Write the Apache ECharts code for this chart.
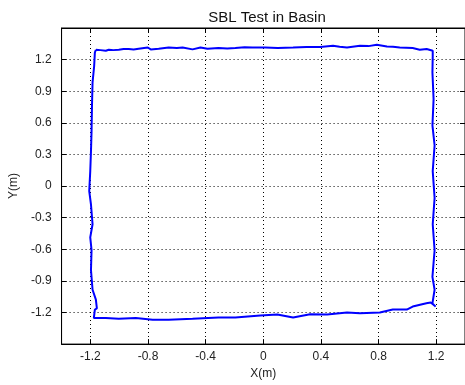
<!DOCTYPE html>
<html>
<head>
<meta charset="utf-8">
<script src="https://cdn.jsdelivr.net/npm/echarts@6/dist/echarts.min.js"></script>
<style>
  html, body { margin: 0; padding: 0; background: #fff; }
  #chart { width: 465px; height: 385px; }
</style>
</head>
<body>
<div id="chart"></div>
<script>
// 轨迹数据（顺时针，从左上角出发）
const pathX = [
  -1.162, -1.13, -1.093, -1.072, -1.04, -1.003, -0.97, -0.934, -0.9, -0.865, -0.802, -0.781, -0.726, -0.657,
  -0.60, -0.560, -0.491, -0.436, -0.387, -0.311, -0.25, -0.194, -0.13, -0.076, 0.014, 0.10, 0.207, 0.30, 0.394,
  0.484, 0.53, 0.581, 0.671, 0.73, 0.788, 0.858, 0.90, 0.947, 1.037, 1.086, 1.134, 1.176, 1.189,
  1.176, 1.174, 1.182, 1.174, 1.189, 1.176, 1.189, 1.176, 1.189, 1.174, 1.189, 1.174, 1.196,
  1.162, 1.132, 1.037, 0.996, 0.899, 0.809, 0.671, 0.581, 0.443, 0.325, 0.207, 0.097,
  -0.021, -0.194, -0.311, -0.491, -0.657, -0.768, -0.885, -1.003, -1.093, -1.162, -1.176,
  -1.169, -1.155, -1.162, -1.185, -1.196, -1.192, -1.201, -1.185, -1.196, -1.208, -1.201,
  -1.196, -1.192, -1.189, -1.185, -1.174, -1.169, -1.162
];
const pathY = [
  1.294, 1.29, 1.284, 1.294, 1.29, 1.294, 1.30, 1.300, 1.296, 1.303, 1.315, 1.297, 1.303, 1.315,
  1.31, 1.315, 1.297, 1.315, 1.303, 1.310, 1.305, 1.310, 1.318, 1.315, 1.315, 1.311, 1.315, 1.320, 1.319,
  1.331, 1.322, 1.315, 1.331, 1.328, 1.341, 1.325, 1.322, 1.315, 1.310, 1.294, 1.300, 1.284, 1.278,
  1.231, 1.078, 0.825, 0.575, 0.387, 0.141, -0.112, -0.363, -0.609, -0.862, -0.984, -1.113, -1.144,
  -1.106, -1.113, -1.144, -1.172, -1.172, -1.200, -1.207, -1.200, -1.219, -1.216, -1.247, -1.219,
  -1.228, -1.247, -1.247, -1.259, -1.268, -1.268, -1.253, -1.259, -1.253, -1.253, -1.253,
  -1.172, -1.162, -1.078, -0.984, -0.797, -0.609, -0.487, -0.363, -0.175, -0.047, 0.141,
  0.328, 0.516, 0.762, 0.984, 1.137, 1.266, 1.294
];
// 刻度
const xTicks = [-1.2, -0.8, -0.4, 0, 0.4, 0.8, 1.2];
const yTicks = [-1.2, -0.9, -0.6, -0.3, 0, 0.3, 0.6, 0.9, 1.2];

const pathData = pathX.map((x, i) => [x, pathY[i]]);

(function () {
  let myChart = echarts.init(document.getElementById("chart"));
  const fmt = (v) => (Math.abs(v) < 1e-9 ? "0" : Number(v).toFixed(1));
  const tickStyle = { show: true, inside: true, length: 5, lineStyle: { color: "#000", width: 1 } };
  const gridLine = { show: true, lineStyle: { color: "#000", type: [1, 3], width: 1 } };
  const axisLine = { show: true, onZero: false, lineStyle: { color: "#000", width: 1 } };

  let option = {
    animation: false,
    title: {
      text: "SBL Test in Basin",
      left: 262,
      textAlign: "center",
      top: 5,
      textStyle: { fontFamily: "Liberation Sans", fontSize: 15, fontWeight: "normal", color: "#111" },
    },
    grid: { left: 60, top: 28, right: 0, bottom: 37, show: true, borderColor: "#000", borderWidth: 1 },
    xAxis: [
      {
        type: "value",
        min: -1.4,
        max: 1.4,
        name: "X(m)",
        nameLocation: "middle",
        nameGap: 20,
        nameTextStyle: { fontFamily: "Liberation Sans", fontSize: 12, color: "#222" },
        axisLine: axisLine,
        axisTick: Object.assign({ customValues: xTicks }, tickStyle),
        axisLabel: { customValues: xTicks, formatter: fmt, fontFamily: "Liberation Sans", fontSize: 12, color: "#222", margin: 7 },
        splitLine: gridLine,
      },
      {
        type: "value",
        position: "top",
        min: -1.4,
        max: 1.4,
        axisLine: axisLine,
        axisTick: Object.assign({ customValues: xTicks }, tickStyle),
        axisLabel: { show: false },
        splitLine: { show: false },
      },
    ],
    yAxis: [
      {
        type: "value",
        min: -1.5,
        max: 1.5,
        name: "Y(m)",
        nameLocation: "middle",
        nameGap: 40,
        nameTextStyle: { fontFamily: "Liberation Sans", fontSize: 12, color: "#222" },
        axisLine: axisLine,
        axisTick: Object.assign({ customValues: yTicks }, tickStyle),
        axisLabel: { customValues: yTicks, formatter: fmt, fontFamily: "Liberation Sans", fontSize: 12, color: "#222", margin: 10 },
        splitLine: gridLine,
      },
      {
        type: "value",
        position: "right",
        min: -1.5,
        max: 1.5,
        axisLine: axisLine,
        axisTick: Object.assign({ customValues: yTicks }, tickStyle),
        axisLabel: { show: false },
        splitLine: { show: false },
      },
    ],
    series: [
      {
        type: "line",
        data: pathData,
        showSymbol: false,
        smooth: false,
        lineStyle: { color: "#0000ff", width: 2 },
      },
    ],
  };

  myChart.setOption(option);
  window.addEventListener("resize", function () {
    myChart.resize();
  });
})();
</script>
</body>
</html>
